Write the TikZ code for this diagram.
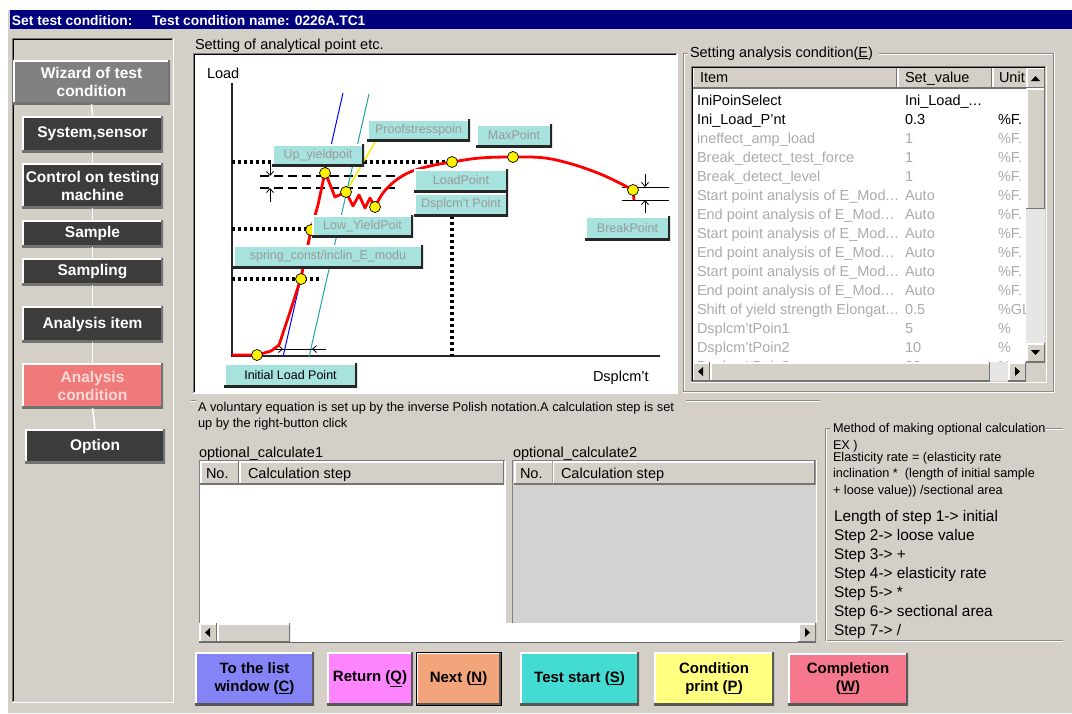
\documentclass[tikz,border=0pt]{standalone}
\usepackage{fontspec}
\setmainfont{Liberation Sans}
\usetikzlibrary{arrows.meta}
\definecolor{winbg}{HTML}{D4D0C8}
\definecolor{navyc}{HTML}{00007E}
\definecolor{btndark}{HTML}{3C3C3C}
\definecolor{btngray}{HTML}{808080}
\definecolor{btnpink}{HTML}{F07A7A}
\definecolor{pinktxt}{HTML}{FFD8D8}
\definecolor{lblcyan}{HTML}{A6E2DE}
\definecolor{lbltext}{HTML}{9A9A9A}
\definecolor{rowgray}{HTML}{ABABAB}
\definecolor{cblue}{HTML}{8484F6}
\definecolor{cmag}{HTML}{FF84FF}
\definecolor{corange}{HTML}{F2A47A}
\definecolor{ccyan}{HTML}{44DCD2}
\definecolor{cyell}{HTML}{FFFF80}
\definecolor{cred}{HTML}{F6788C}
\definecolor{dith}{HTML}{D2D2D2}
\definecolor{ltrack}{HTML}{E6E6E6}
\definecolor{cteal}{HTML}{20A4A4}
\definecolor{cyelline}{HTML}{F0F000}
\newcommand\tdots{.\kern0.5pt.\kern0.5pt.}
\begin{document}
\begin{tikzpicture}[x=1pt,y=-1pt,
  every node/.style={inner sep=0pt,outer sep=0pt},
  raised/.style 2 args={path picture={
    \draw[white,line width=#2] (path picture bounding box.south west) -- (path picture bounding box.north west) -- (path picture bounding box.north east);
    \draw[#1,line width=#2] (path picture bounding box.south west) -- (path picture bounding box.south east) -- (path picture bounding box.north east);}},
  gui/.style={anchor=base west,font=\fontsize{14.5}{17}\selectfont},
  small/.style={anchor=base west,font=\fontsize{12.7}{15}\selectfont},
  big/.style={anchor=base west,font=\fontsize{15.4}{18}\selectfont},
  titletxt/.style={anchor=base west,text=white,font=\bfseries\fontsize{13.8}{16}\selectfont},
  leftbtn/.style={raised={black!55}{4pt},fill=btndark,text=white,align=center,
    minimum width=141pt,font=\bfseries\fontsize{15.5}{18}\selectfont},
  lbl/.style={raised={black!85}{4pt},fill=lblcyan,text=lbltext,
    font=\fontsize{12.5}{14}\selectfont},
  botbtn/.style={raised={black!65}{4pt},text=black,align=center,minimum height=53pt,
    font=\bfseries\fontsize{15}{18}\selectfont},
  hdr/.style={raised={black!55}{3pt},fill=winbg},
  dotline/.style={line width=3.2pt,dash pattern=on 3pt off 3pt},
  dashline/.style={line width=2.4pt,dash pattern=on 9pt off 5pt},
  dim/.style={line width=0.8pt,-{Straight Barb[length=4pt,width=7pt]}},
  ydot/.style={circle,fill=yellow,draw=black,line width=0.7pt,minimum size=11pt},
  etch/.style={draw=black!45}
]
\useasboundingbox (0,0) rectangle (1072,713);
% window
\fill[white] (0,0) rectangle (1072,713);
\fill[winbg] (8,10) rectangle (1072,713);
\fill[navyc] (10,10) rectangle (1072,29);
\node[titletxt] (t1) at (12,25) {Set test condition:};
\node[titletxt] (t2) at (152,25) {Test condition name: 0226A.TC1};

% left panel
\draw[black!55,line width=1pt] (12,702) -- (12,38) -- (173,38);
\draw[black,line width=0.8pt] (13,701) -- (13,39) -- (172,39);
\draw[white,line width=1pt] (173,38) -- (173,702) -- (12,702);

\node[leftbtn,fill=btngray,minimum width=157pt,minimum height=44pt] (wiz) at (91.5,82) {Wizard of test\\condition};
\node[leftbtn,minimum height=36pt] (sys) at (92.5,134) {System,sensor};
\node[leftbtn,minimum height=45pt] (ctl) at (92.5,185.5) {Control on testing\\machine};
\node[leftbtn,minimum height=27pt] (smp) at (92.5,233.5) {Sample};
\node[leftbtn,minimum height=27pt] (spl) at (92.5,271.5) {Sampling};
\node[leftbtn,minimum height=36pt] (ait) at (92.5,324) {Analysis item};
\node[leftbtn,fill=btnpink,text=pinktxt,minimum height=45pt] (acd) at (92.5,385.5) {Analysis\\condition};
\node[leftbtn,minimum width=140pt,minimum height=34pt] (opt) at (95,446) {Option};
\foreach \a/\b in {wiz/sys,sys/ctl,ctl/smp,smp/spl,spl/ait,ait/acd,acd/opt}
  \draw[white,line width=1.5pt] (\a.south) -- (\b.north);

% chart panel
\node[gui] (chartcap) at (195,49) {Setting of analytical point etc.};
\fill[white] (193,53) rectangle (677,393);
\draw[black!50] (193,393) -- (193,53) -- (677,53);
\draw[black] (194,392) -- (194,54) -- (676,54);
\draw[white] (677,53) -- (677,393) -- (193,393);

\node[gui] (load) at (207,78) {Load};
\node[gui] (dsp) at (593,381) {Dsplcm't};
\draw[black!85,line width=1.2pt] (232,83) -- (232,356) -- (660,356);

% dotted and dashed guides
\draw[dotline] (232,162) -- (452,162);
\draw[dotline] (232,229) -- (311,229);
\draw[dotline] (232,279) -- (322,279);
\draw[dotline] (452,216) -- (452,356);
\draw[dashline] (260,176) -- (400,176);
\draw[dashline] (260,188) -- (395,188);

% slope lines
\draw[blue,line width=1pt] (283,357) -- (343,93);
\draw[cteal,line width=1pt] (309,357) -- (369,94);
\draw[cyelline,line width=1.5pt] (346,192) -- (375,142);

% dimension marks
\draw[dim] (270,164) -- (270,176);
\draw[dim] (270,202) -- (270,188);
\draw[line width=0.8pt] (622,187) -- (669,187);
\draw[line width=0.8pt] (622,200) -- (669,200);
\draw[dim] (645,174) -- (645,187);
\draw[dim] (645,213) -- (645,200);
\draw[line width=0.8pt] (272,349) -- (326,349);
\draw[dim] (272,349) -- (283,349);
\draw[dim] (326,349) -- (312,349);

% red curve
\draw[red,line width=2.8pt,line join=round]
  (232,355) -- (257,355) -- (271,351) -- (279,345) -- (290,312) -- (301,278) -- (311,230)
  -- (318,205) -- (325,172) -- (335,197) -- (346,192) -- (353,206) -- (359,195) -- (365,208)
  -- (370,198) -- (375,207);
\draw[red,line width=2.8pt] plot[smooth,tension=0.6] coordinates {(375,207) (383,193) (395,181) (410,172) (430,166) (452,162) (480,158) (513,157) (545,158) (575,165) (605,176) (633,190)};
\draw[red,line width=2.8pt] (633,190) -- (634,200);

% yellow points
\foreach \n/\x/\y in {p1/257/355,p2/301/279,p3/311/230,p4/325/173,p5/346/192,p6/375/207,p7/452/162,p8/513/157,p9/633/190}
  \node[ydot] (\n) at (\x,\y) {};

% labels
\node[lbl,minimum width=92pt,minimum height=22pt] (uy) at (318,155) {Up\_yieldpoit};
\node[lbl,minimum width=103pt,minimum height=22pt] (ps) at (418.5,130) {Proofstresspoin};
\node[lbl,minimum width=76pt,minimum height=23pt] (mx) at (514,135.5) {MaxPoint};
\node[lbl,minimum width=94pt,minimum height=23pt] (lp) at (461,180.5) {LoadPoint};
\node[lbl,minimum width=94pt,minimum height=23pt] (dp) at (461,204.5) {Dsplcm't Point};
\node[lbl,minimum width=101pt,minimum height=22pt] (ly) at (362.5,226) {Low\_YieldPoit};
\node[lbl,minimum width=190pt,minimum height=23pt] (sc) at (328,256.5) {spring\_const/inclin\_E\_modu};
\node[lbl,text=black,minimum width=133pt,minimum height=24pt] (il) at (290.5,375) {Initial Load Point};
\node[lbl,minimum width=85pt,minimum height=24pt] (bp) at (627.5,228) {BreakPoint};

% right group
\draw[etch] (683,391) -- (683,53) -- (688,53);
\draw[etch] (879,53) -- (1053,53) -- (1053,391) -- (683,391);
\draw[white] (684,390) -- (684,54) -- (688,54);
\draw[white] (879,54) -- (1052,54);
\draw[white] (1054,53) -- (1054,392) -- (683,392);
\node[gui] (rcap) at (690,57) {Setting analysis condition(\underline{E})};

% table
\fill[white] (692,88) rectangle (1026,362);
\begin{scope}
\clip (692,88) rectangle (1026,362);
\foreach \i/\a/\b/\c/\col in {
  1/IniPoinSelect/Ini\_Load\_\tdots/{}/black,
  2/Ini\_Load\_P'nt/0.3/\%F./black,
  3/ineffect\_amp\_load/1/\%F./rowgray,
  4/Break\_detect\_test\_force/1/\%F./rowgray,
  5/Break\_detect\_level/1/\%F./rowgray,
  6/Start point analysis of E\_Mod\tdots/Auto/\%F./rowgray,
  7/End point analysis of E\_Mod\tdots/Auto/\%F./rowgray,
  8/Start point analysis of E\_Mod\tdots/Auto/\%F./rowgray,
  9/End point analysis of E\_Mod\tdots/Auto/\%F./rowgray,
  10/Start point analysis of E\_Mod\tdots/Auto/\%F./rowgray,
  11/End point analysis of E\_Mod\tdots/Auto/\%F./rowgray,
  12/Shift of yield strength Elongat\tdots/0.5/\%GL/rowgray,
  13/Dsplcm'tPoin1/5/\%/rowgray,
  14/Dsplcm'tPoin2/10/\%/rowgray,
  15/Dsplcm'tPoin3/20/\%/rowgray}
{
  \node[gui,text=\col] (ra\i) at (697,{105+19*(\i-1)}) {\a};
  \node[gui,text=\col] (rb\i) at (905,{105+19*(\i-1)}) {\b};
  \node[gui,text=\col] (rc\i) at (998,{105+19*(\i-1)}) {\c};
}
\end{scope}
\begin{scope}
\clip (692,66) rectangle (1026,88);
\node[hdr,minimum width=205pt,minimum height=22pt] (h1) at (794.5,77) {};
\node[hdr,minimum width=95pt,minimum height=22pt] (h2) at (944.5,77) {};
\node[hdr,minimum width=40pt,minimum height=22pt] (h3) at (1012,77) {};
\node[gui] (h1t) at (700,82) {Item};
\node[gui] (h2t) at (905,82) {Set\_value};
\node[gui] (h3t) at (999,82) {Unit};
\end{scope}
% vertical scrollbar
\node[hdr,minimum width=19pt,minimum height=21pt] (vup) at (1035.5,77.5) {};
\fill[black] (1031,81) -- (1040,81) -- (1035.5,76) -- cycle;
\node[hdr,minimum width=19pt,minimum height=121pt] (vth) at (1035.5,148.5) {};
\fill[ltrack] (1026,209) rectangle (1045,343);
\node[hdr,minimum width=19pt,minimum height=19pt] (vdn) at (1035.5,352.5) {};
\fill[black] (1031,350) -- (1040,350) -- (1035.5,355) -- cycle;
% horizontal scrollbar
\node[hdr,minimum width=18pt,minimum height=19pt] (hl) at (701,371.5) {};
\fill[black] (703,367) -- (703,376) -- (698,371.5) -- cycle;
\node[hdr,minimum width=280pt,minimum height=19pt] (hth) at (850,371.5) {};
\fill[ltrack] (990,362) rectangle (1008,381);
\node[hdr,minimum width=18pt,minimum height=19pt] (hr) at (1017,371.5) {};
\fill[black] (1015,367) -- (1015,376) -- (1020,371.5) -- cycle;
\draw[black!50] (691,382) -- (691,66) -- (1046,66);
\draw[black] (692,381) -- (692,67) -- (1045,67);
\draw[white] (1046,66) -- (1046,382) -- (691,382);

% bottom group
\draw[etch] (191,400) -- (196,400);
\draw[etch] (686,400) -- (820,400);
\draw[white] (191,401) -- (196,401);
\draw[white] (686,401) -- (820,401);
\node[anchor=base west,font=\fontsize{12.8}{15}\selectfont] (v1) at (198,411.5) {A voluntary equation is set up by the inverse Polish notation.A calculation step is set};
\node[anchor=base west,font=\fontsize{12.8}{15}\selectfont] (v2) at (198,427.5) {up by the right-button click};
\node[gui] (oc1) at (199,457) {optional\_calculate1};
\node[gui] (oc2) at (513,457) {optional\_calculate2};
% list views
\fill[white] (199,461) rectangle (505,623);
\fill[dith] (513,484) rectangle (816,623);
\node[hdr,minimum width=39pt,minimum height=23pt] (l1a) at (219.5,472.5) {};
\node[hdr,minimum width=265pt,minimum height=23pt] (l1b) at (371.5,472.5) {};
\node[hdr,minimum width=39pt,minimum height=23pt] (l2a) at (533.5,472.5) {};
\node[hdr,minimum width=263pt,minimum height=23pt] (l2b) at (684,472.5) {};
\node[gui] (l1at) at (206,478) {No.};
\node[gui] (l1bt) at (248,478) {Calculation step};
\node[gui] (l2at) at (520,478) {No.};
\node[gui] (l2bt) at (561,478) {Calculation step};
\draw[black!50] (199,623) -- (199,460) -- (505,460);
\draw[white] (505,460) -- (505,623);
\draw[black!50] (512,623) -- (512,460) -- (816,460);
\draw[white] (816,460) -- (816,623);
% long horizontal scrollbar
\fill[white] (199,623) rectangle (816,642);
\node[hdr,minimum width=18pt,minimum height=19pt] (bl) at (208,632.5) {};
\fill[black] (210,628) -- (210,637) -- (205,632.5) -- cycle;
\node[hdr,minimum width=73pt,minimum height=19pt] (bth) at (253.5,632.5) {};
\node[hdr,minimum width=18pt,minimum height=19pt] (br) at (807,632.5) {};
\fill[black] (805,628) -- (805,637) -- (810,632.5) -- cycle;
\draw[black!60] (199,642) -- (816,642);

% method group
\draw[etch] (830,428) -- (825,428) -- (825,640) -- (1063,640);
\draw[etch] (1046,428) -- (1063,428);
\draw[white] (826,429) -- (826,641) -- (1063,641);
\draw[white] (1046,429) -- (1063,429);
\node[small] (m0) at (833,432.5) {Method of making optional calculation};
\node[small] (m1) at (833,449.5) {EX )};
\node[small] (m2) at (833,461.5) {Elasticity rate = (elasticity rate};
\node[small] (m3) at (833,477.5) {inclination *\ \ (length of initial sample};
\node[small] (m4) at (833,494.5) {+ loose value)) /sectional area};
\node[big] (s1) at (834,521.5) {Length of step 1-> initial};
\node[big] (s2) at (834,540.5) {Step 2-> loose value};
\node[big] (s3) at (834,559.5) {Step 3-> +};
\node[big] (s4) at (834,578.5) {Step 4-> elasticity rate};
\node[big] (s5) at (834,597.5) {Step 5-> *};
\node[big] (s6) at (834,616.5) {Step 6-> sectional area};
\node[big] (s7) at (834,635.5) {Step 7-> /};

% bottom buttons
\node[botbtn,fill=cblue,minimum width=119pt] (b1) at (254.5,678.5) {To the list\\window (\underline{C})};
\node[botbtn,fill=cmag,minimum width=86pt] (b2) at (370,678.5) {Return (\underline{Q})};
\node[botbtn,fill=corange,minimum width=85pt,draw=black,line width=1pt] (b3) at (458.5,678.5) {Next (\underline{N})};
\node[botbtn,fill=ccyan,minimum width=119pt] (b4) at (579.5,678.5) {Test start (\underline{S})};
\node[botbtn,fill=cyell,minimum width=120pt] (b5) at (714,678.5) {Condition\\print (\underline{P})};
\node[botbtn,fill=cred,minimum width=120pt,minimum height=52pt] (b6) at (848,679) {Completion\\(\underline{W})};
\end{tikzpicture}
\end{document}
